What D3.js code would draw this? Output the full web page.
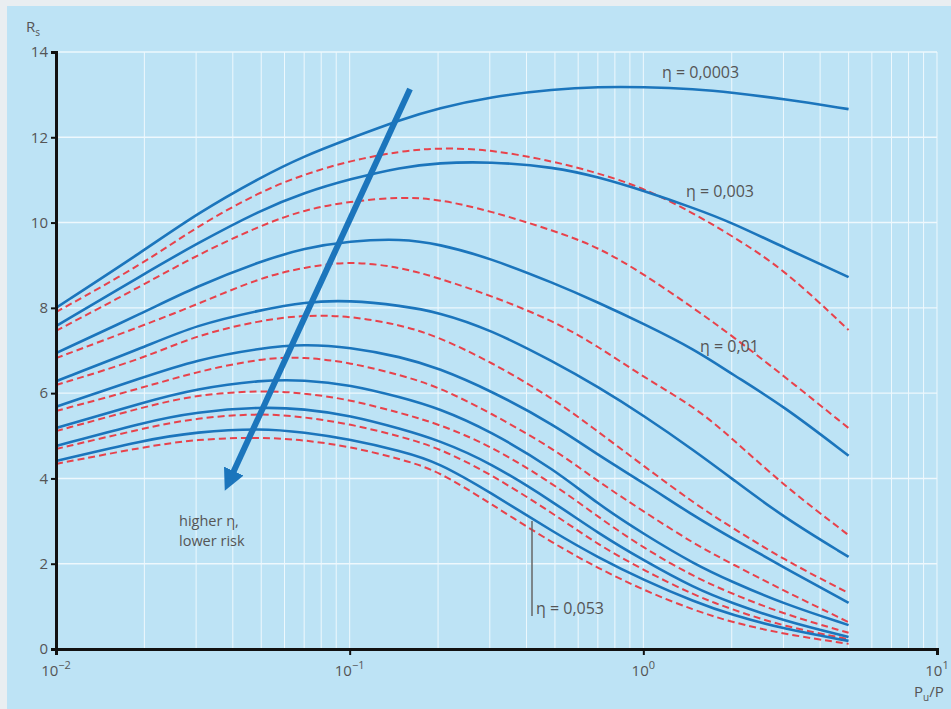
<!DOCTYPE html>
<html>
<head>
<meta charset="utf-8">
<script src="https://cdn.jsdelivr.net/npm/d3@7"></script>
<style>
  body { margin: 0; background: #e9eef1; }
  svg { display: block; }
  text { font-family: 'Open Sans', sans-serif; fill: #555; }
</style>
</head>
<body>
<svg width="951" height="709"></svg>
<script>
// P_u/P sample positions (shared by all curves)
const xValues = [0.01, 0.02, 0.03, 0.05, 0.07, 0.1, 0.15, 0.2, 0.3, 0.5, 0.7, 1, 1.5, 2, 3, 5]

// solid blue curves, top to bottom (eta increasing)
const blue1 = [8.0, 9.35, 10.2, 11.07, 11.56, 11.97, 12.42, 12.68, 12.95, 13.13, 13.18, 13.18, 13.13, 13.05, 12.9, 12.66]
const blue2 = [7.57, 8.8, 9.5, 10.3, 10.7, 11.02, 11.3, 11.4, 11.43, 11.3, 11.07, 10.75, 10.33, 10.0, 9.42, 8.72]
const blue3 = [6.94, 7.9, 8.5, 9.1, 9.4, 9.57, 9.62, 9.5, 9.17, 8.57, 8.13, 7.63, 7.02, 6.45, 5.7, 4.53]
const blue4 = [6.28, 7.08, 7.6, 7.95, 8.14, 8.18, 8.05, 7.9, 7.5, 6.72, 6.15, 5.48, 4.64, 4.0, 3.09, 2.16]
const blue5 = [5.68, 6.38, 6.78, 7.06, 7.15, 7.08, 6.85, 6.59, 6.07, 5.25, 4.55, 3.9, 3.1, 2.6, 1.92, 1.08]
const blue6 = [5.18, 5.79, 6.1, 6.31, 6.31, 6.2, 5.9, 5.65, 5.12, 4.2, 3.4, 2.7, 1.98, 1.58, 1.06, 0.56]
const blue7 = [4.76, 5.32, 5.56, 5.68, 5.63, 5.48, 5.16, 4.9, 4.38, 3.42, 2.72, 2.08, 1.42, 1.08, 0.66, 0.28]
const blue8 = [4.41, 4.9, 5.09, 5.18, 5.08, 4.92, 4.64, 4.38, 3.68, 2.72, 2.15, 1.62, 1.1, 0.8, 0.47, 0.19]

// dashed red curves, top to bottom
const red1 = [7.9, 9.05, 9.9, 10.74, 11.13, 11.45, 11.68, 11.75, 11.72, 11.43, 11.16, 10.82, 10.2, 9.69, 8.92, 7.48]
const red2 = [7.46, 8.55, 9.23, 9.94, 10.3, 10.5, 10.6, 10.55, 10.28, 9.8, 9.43, 8.8, 7.97, 7.35, 6.41, 5.18]
const red3 = [6.82, 7.6, 8.07, 8.72, 8.95, 9.1, 8.95, 8.7, 8.3, 7.68, 7.1, 6.38, 5.67, 4.95, 3.84, 2.67]
const red4 = [6.19, 6.82, 7.36, 7.71, 7.83, 7.81, 7.6, 7.32, 6.75, 5.85, 5.1, 4.3, 3.4, 2.85, 2.1, 1.31]
const red5 = [5.58, 6.14, 6.5, 6.82, 6.85, 6.72, 6.42, 6.15, 5.55, 4.68, 3.93, 3.23, 2.45, 2.0, 1.37, 0.63]
const red6 = [5.11, 5.68, 5.96, 6.07, 6.0, 5.85, 5.53, 5.28, 4.78, 3.85, 3.1, 2.37, 1.68, 1.3, 0.82, 0.38]
const red7 = [4.69, 5.18, 5.42, 5.53, 5.44, 5.28, 4.98, 4.72, 4.12, 3.15, 2.45, 1.85, 1.25, 0.93, 0.53, 0.23]
const red8 = [4.34, 4.74, 4.92, 4.97, 4.9, 4.75, 4.45, 4.18, 3.42, 2.45, 1.9, 1.38, 0.9, 0.63, 0.35, 0.12]

const blueSeries = [blue1, blue2, blue3, blue4, blue5, blue6, blue7, blue8]
const redSeries = [red1, red2, red3, red4, red5, red6, red7, red8]

const yTicks = [0, 2, 4, 6, 8, 10, 12, 14]
const xDecades = [0.01, 0.1, 1, 10]
const xTickExp = ['\u22122', '\u22121', '0', '1']

const blue = '#1b75bc',
  red = '#e8424b',
  panel = '#bde3f5'

const xPixelMin = 56
const xPixelMax = 937
const yPixelMin = 52
const yPixelMax = 649

const svg = d3.select('svg')

// light blue panel
svg.append('rect')
  .attr('x', 7).attr('y', 6)
  .attr('width', 951 - 7).attr('height', 709 - 6)
  .attr('fill', panel)

const xScale = d3.scaleLog().domain([0.01, 10]).range([xPixelMin, xPixelMax])
const yScale = d3.scaleLinear().domain([0, 14]).range([yPixelMax, yPixelMin])

// grid
const minorX = []
xDecades.slice(0, 3).forEach((d) => {
  for (let k = 1; k <= 9; k++) minorX.push(d * k)
})
minorX.push(10)

svg.append('g')
  .selectAll('line')
  .data(minorX)
  .enter()
  .append('line')
  .attr('x1', (d) => xScale(d))
  .attr('x2', (d) => xScale(d))
  .attr('y1', yPixelMin)
  .attr('y2', yPixelMax)
  .attr('stroke', '#eef8fd')
  .attr('stroke-width', 1)

svg.append('g')
  .selectAll('line')
  .data(yTicks.slice(1))
  .enter()
  .append('line')
  .attr('x1', xPixelMin)
  .attr('x2', xPixelMax)
  .attr('y1', (d) => yScale(d))
  .attr('y2', (d) => yScale(d))
  .attr('stroke', '#eef8fd')
  .attr('stroke-width', 1.4)

// curves
const line = d3.line()
  .x((d) => xScale(d[0]))
  .y((d) => yScale(d[1]))
  .curve(d3.curveBasis)

const toPoints = (vals) => vals.map((v, i) => [xValues[i], v])

svg.append('g')
  .selectAll('path')
  .data(redSeries)
  .enter()
  .append('path')
  .attr('d', (d) => line(toPoints(d)))
  .attr('fill', 'none')
  .attr('stroke', red)
  .attr('stroke-width', 2)
  .attr('stroke-dasharray', '7,4')

svg.append('g')
  .selectAll('path')
  .data(blueSeries)
  .enter()
  .append('path')
  .attr('d', (d) => line(toPoints(d)))
  .attr('fill', 'none')
  .attr('stroke', blue)
  .attr('stroke-width', 2.6)

// axes
const yAxis = d3.axisLeft(yScale).tickValues(yTicks).tickSize(5).tickPadding(3)
const yAxisG = svg.append('g')
  .attr('transform', `translate(${xPixelMin}, 0)`)
  .call(yAxis)

const xAxis = d3.axisBottom(xScale).tickValues(xDecades).tickSize(6).tickFormat('')
const xAxisG = svg.append('g')
  .attr('transform', `translate(0, ${yPixelMax})`)
  .call(xAxis)

;[yAxisG, xAxisG].forEach((g) => {
  g.select('.domain').attr('stroke', '#111').attr('stroke-width', 3)
  g.selectAll('.tick line').attr('stroke', '#111').attr('stroke-width', 2)
  g.selectAll('.tick text')
    .attr('fill', '#555')
    .style('font-family', "'Open Sans', sans-serif")
    .style('font-size', '15px')
})

// x tick labels with superscripts
const xLab = svg.append('g')
  .selectAll('text')
  .data(xDecades)
  .enter()
  .append('text')
  .attr('x', (d) => xScale(d))
  .attr('y', 676)
  .attr('text-anchor', 'middle')
  .style('font-size', '15px')

xLab.append('tspan').text('10')
xLab.append('tspan')
  .attr('dy', -7)
  .style('font-size', '11px')
  .text((d, i) => xTickExp[i])

// axis titles
const yTitle = svg.append('text').attr('x', 26).attr('y', 32).style('font-size', '15px')
yTitle.append('tspan').text('R')
yTitle.append('tspan').attr('dy', 4).style('font-size', '10px').text('s')

const xTitle = svg.append('text').attr('x', 914).attr('y', 697).style('font-size', '15px')
xTitle.append('tspan').text('P')
xTitle.append('tspan').attr('dy', 4).style('font-size', '10px').text('u')
xTitle.append('tspan').attr('dy', -4).text('/P')

// annotations
const labels = [
  { text: '\u03b7 = 0,0003', x: 662, y: 78 },
  { text: '\u03b7 = 0,003', x: 686, y: 197 },
  { text: '\u03b7 = 0,01', x: 700, y: 352 },
  { text: '\u03b7 = 0,053', x: 536, y: 614 }
]
svg.append('g')
  .selectAll('text')
  .data(labels)
  .enter()
  .append('text')
  .attr('x', (d) => d.x)
  .attr('y', (d) => d.y)
  .style('font-size', '16px')
  .attr('fill', '#444')
  .text((d) => d.text)

svg.append('line')
  .attr('x1', 532).attr('x2', 532)
  .attr('y1', yScale(3.0)).attr('y2', 616)
  .attr('stroke', '#666')
  .attr('stroke-width', 1.5)

// arrow: higher eta, lower risk
svg.append('defs')
  .append('marker')
  .attr('id', 'head')
  .attr('viewBox', '0 0 10 10')
  .attr('refX', 2).attr('refY', 5)
  .attr('markerWidth', 3.6).attr('markerHeight', 3.6)
  .attr('orient', 'auto')
  .append('path')
  .attr('d', 'M0,0 L10,5 L0,10 z')
  .attr('fill', blue)

svg.append('line')
  .attr('x1', 410).attr('y1', 89)
  .attr('x2', 232).attr('y2', 475)
  .attr('stroke', blue)
  .attr('stroke-width', 6)
  .attr('marker-end', 'url(#head)')

const note = svg.append('text').attr('x', 179).attr('y', 526).style('font-size', '14.5px').attr('fill', '#444')
note.append('tspan').attr('x', 179).text('higher \u03b7,')
note.append('tspan').attr('x', 179).attr('dy', 20).text('lower risk')
</script>
</body>
</html>
